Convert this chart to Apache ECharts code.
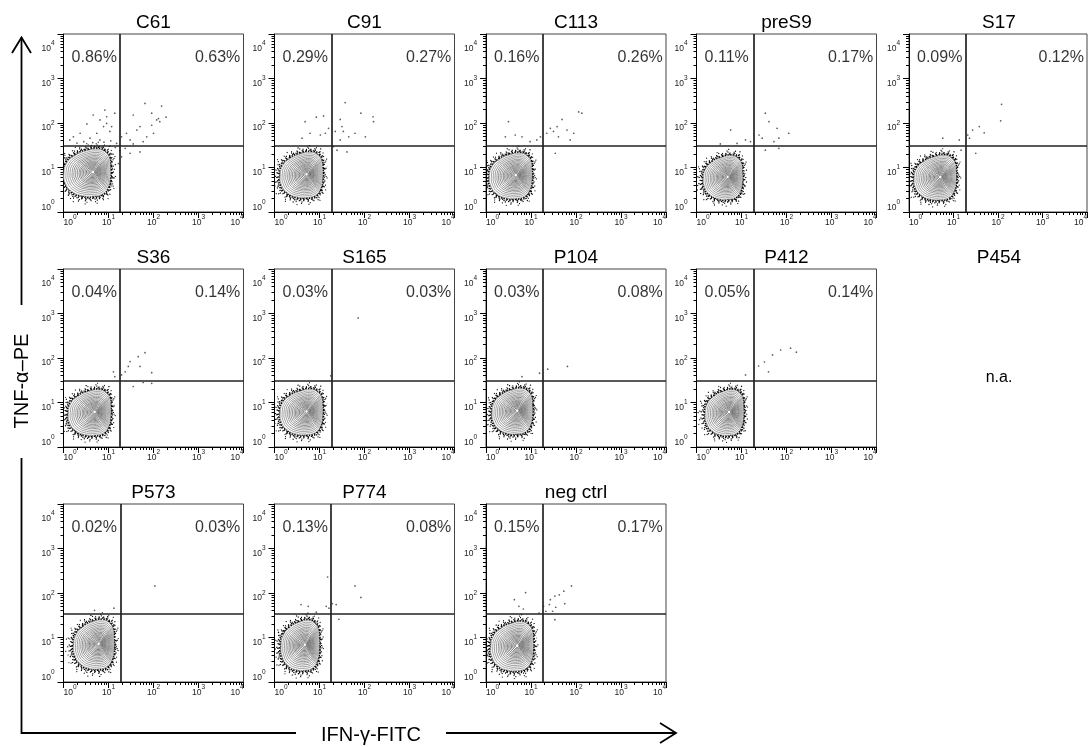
<!DOCTYPE html>
<html><head><meta charset="utf-8">
<script src="https://cdn.jsdelivr.net/npm/echarts@6/dist/echarts.min.js"></script>
<style>html,body{margin:0;padding:0;background:#fff}#c{width:1090px;height:747px}</style>
</head><body><div id="c"></div>
<script>
// ---------------- DATA ----------------
const panelNames = ['C61','C91','C113','preS9','S17','S36','S165','P104','P412','P454','P573','P774','neg ctrl'];
const hasData   = [true,true,true,true,true,true,true,true,true,false,true,true,true];
const ulPct = ['0.86%','0.29%','0.16%','0.11%','0.09%','0.04%','0.03%','0.03%','0.05%',null,'0.02%','0.13%','0.15%'];
const urPct = ['0.63%','0.27%','0.26%','0.17%','0.12%','0.14%','0.03%','0.08%','0.14%',null,'0.03%','0.08%','0.17%'];
const naText = 'n.a.';
// quadrant gates (log10 units)
const gateX = [1.26,1.27,1.26,1.27,1.27,1.26,1.27,1.26,1.27,null,1.28,1.26,1.27];
const gateY = [1.50,1.50,1.50,1.50,1.50,1.50,1.50,1.50,1.50,null,1.53,1.53,1.53];
// main population: density peak (log10 x, log10 y) and spread factors
const blobPeak = [[0.66,0.90],[0.72,0.85],[0.67,0.83],[0.70,0.79],[0.71,0.79],[0.70,0.79],[0.72,0.80],[0.70,0.82],[0.73,0.79],null,[0.79,0.86],[0.68,0.84],[0.70,0.82]];
const blobSpread = [[1.10,1.04],[1.00,1.00],[1.00,1.00],[0.92,0.96],[1.00,0.98],[1.00,1.00],[1.00,1.00],[0.95,1.00],[0.90,1.00],null,[0.95,1.08],[0.90,1.10],[1.00,1.08]];
// outer contour outline relative to the peak (decades)
const blobShape = [[0.34,0.13],[0.32,0.31],[0.24,0.43],[0.09,0.49],[-0.15,0.45],[-0.37,0.35],[-0.53,0.20],[-0.59,-0.02],[-0.56,-0.25],[-0.43,-0.42],[-0.22,-0.51],[0.00,-0.52],[0.19,-0.47],[0.30,-0.32],[0.34,-0.10]];
// individual events outside the main population (log10 IFN-γ, log10 TNF-α)
const evC61 = [[1.81,2.44],[2.18,2.38],[2.28,2.13],[2.07,2.07],[1.96,1.95],[1.70,1.92],[1.55,2.18],[1.63,1.84],[1.40,1.77],[1.48,1.62],[1.29,1.69],[1.85,1.69],[2.00,1.77],[2.14,2.03],[1.14,2.22],[0.96,2.14],[0.81,2.07],[0.89,1.92],[0.74,1.77],[1.03,1.81],[0.52,1.98],[0.37,1.77],[0.22,1.69],[0.59,1.66],[0.81,1.62],[1.18,1.54],[1.37,1.43],[1.48,1.32],[1.29,1.24],[1.70,1.35],[1.22,1.09],[0.96,1.99],[1.07,1.92],[0.14,1.62],[0.66,2.18],[0.92,2.29],[1.96,2.22],[2.11,2.10],[1.55,1.53],[1.77,1.58],[0.45,1.58],[0.65,1.56],[0.90,1.57],[1.05,1.60],[0.30,1.55],[1.15,1.45],[1.25,1.38],[1.10,1.30]];
const evC91 = [[1.57,2.46],[1.92,2.22],[2.19,2.14],[2.20,2.03],[1.46,2.08],[1.50,1.92],[1.35,1.81],[1.53,1.81],[1.65,1.69],[1.79,1.77],[2.02,1.69],[0.93,2.13],[1.09,2.16],[0.68,2.03],[0.79,1.77],[0.61,1.66],[1.02,1.73],[1.13,1.77],[1.39,1.39],[1.61,1.35],[1.31,1.47],[1.46,1.62],[1.20,1.88]];
const evC113 = [[2.06,2.25],[2.13,2.22],[1.69,2.08],[1.58,1.92],[1.50,1.81],[1.80,1.84],[1.95,1.77],[1.87,1.62],[1.61,1.69],[1.35,1.77],[1.43,1.88],[1.54,1.32],[0.50,2.03],[0.43,1.69],[0.65,1.73],[0.80,1.69],[1.21,1.69],[1.13,1.62],[0.98,1.58]];
const evPreS9 = [[1.53,2.22],[1.61,2.03],[1.79,1.88],[2.05,1.77],[1.39,1.73],[1.46,1.66],[1.72,1.58],[1.83,1.66],[1.53,1.39],[1.83,1.43],[0.76,1.84],[0.53,1.53],[0.90,1.54],[1.09,1.62],[1.20,1.58]];
const evS17 = [[2.08,2.42],[2.06,2.05],[1.58,1.92],[1.69,1.78],[1.43,1.84],[1.32,1.73],[1.36,1.66],[1.50,1.32],[1.13,1.62],[0.76,1.66],[1.17,1.39]];
const evS36 = [[1.81,2.12],[1.66,2.03],[1.48,1.92],[1.44,1.81],[1.70,1.81],[1.37,1.69],[1.29,1.62],[1.96,1.67],[1.96,1.43],[1.55,1.36],[1.77,1.45],[1.11,1.69],[1.14,1.58]];
const evS165 = [[1.86,2.90],[1.25,1.60]];
const evP104 = [[1.37,1.75],[1.81,1.81],[0.80,1.58],[1.19,1.66]];
const evP412 = [[1.38,1.82],[1.51,1.91],[1.69,2.07],[1.87,2.18],[2.09,2.22],[2.22,2.13],[1.60,1.69],[1.09,1.62]];
const evP573 = [[2.03,2.16],[0.69,1.61],[1.12,1.66]];
const evP774 = [[1.18,2.36],[1.79,2.16],[1.92,1.90],[0.59,1.74],[0.75,1.70],[0.93,1.57],[1.15,1.70],[1.28,1.76],[1.37,1.74],[1.43,1.41],[1.21,1.66]];
const evNeg = [[0.88,2.01],[1.90,2.16],[1.73,2.04],[1.63,1.96],[1.53,1.93],[1.43,1.85],[1.28,1.70],[1.41,1.74],[1.53,1.40],[1.48,1.59],[0.63,1.85],[0.73,1.70],[0.83,1.64],[1.33,1.59],[1.55,1.68],[1.75,1.76],[1.18,1.55]];
const panelEvents = [evC61,evC91,evC113,evPreS9,evS17,evS36,evS165,evP104,evP412,null,evP573,evP774,evNeg];
// axis decades (tick labels 10^0 .. 10^4)
const tickExps = [0,1,2,3,4];
const minorMultipliers = [2,3,4,5,6,7,8,9];
const xAxisTitle = 'IFN-\u03b3-FITC';
const yAxisTitle = 'TNF-\u03b1\u2013PE';

// ---------------- LAYOUT / STYLE ----------------
const FONT = '"Liberation Sans", Arial, Helvetica, sans-serif';
const colLeft = [63.5, 274.5, 486, 696.5, 909];
const rowTop = [34, 269, 504];
const PW = 180, PH = 178;
const contourLevels = [1, 0.93, 0.86, 0.79, 0.72, 0.66, 0.6, 0.54, 0.48, 0.43, 0.38, 0.33, 0.28, 0.23, 0.18, 0.13, 0.08];
// speckle band around the population: ring scale, dot size, gap, phase
const speckleRings = [
  {k:1.01,w:1.6,dash:[1.3,1.1],off:0},{k:1.05,w:1.6,dash:[1.3,1.6],off:1},{k:1.09,w:1.5,dash:[1.2,2.4],off:0.5},
  {k:1.13,w:1.4,dash:[1.1,3.4],off:2},{k:1.18,w:1.3,dash:[1,5],off:1.5},{k:1.24,w:1.2,dash:[1,7.5],off:3},
  {k:1.31,w:1.1,dash:[1,11],off:5}];

const minorVals = [];
tickExps.slice(0,-1).forEach(e => minorMultipliers.forEach(m => minorVals.push(e + Math.log10(m))));

const rich = {
  b:{fontSize:8.5,fontFamily:FONT,color:'#222',verticalAlign:'bottom',lineHeight:13},
  s:{fontSize:6.5,fontFamily:FONT,color:'#222',verticalAlign:'top',lineHeight:13}
};
const fmt = v => '{b|10}{s|' + Math.round(v) + '}';

function contourRender(params, api) {
  const cx = api.value(0), cy = api.value(1), sx = api.value(2), sy = api.value(3);
  const ring = k => blobShape.map(d => api.coord([cx + d[0]*sx*k, cy + d[1]*sy*k]));
  const ch = [];
  speckleRings.forEach(s => ch.push({type:'polygon', shape:{points:ring(s.k), smooth:0.5},
    style:{fill:'none', stroke:'#000', lineWidth:s.w, lineDash:s.dash, lineDashOffset:s.off}}));
  ch.push({type:'polygon', shape:{points:ring(1), smooth:0.5}, style:{fill:'#fff', stroke:'none'}});
  const n = contourLevels.length;
  contourLevels.forEach((k,i) => {
    const t = i/(n-1);
    const g = Math.round(165 - 85*Math.sqrt(t));
    ch.push({type:'polygon', shape:{points:ring(k), smooth:0.5},
      style:{fill: i === n-1 ? '#fff' : 'none', stroke:'rgb('+g+','+g+','+g+')', lineWidth:0.8}});
  });
  return {type:'group', children:ch};
}

const grids=[], xAxes=[], yAxes=[], series=[], graphics=[];
let gi = 0;
panelNames.forEach((name, p) => {
  const row = Math.floor(p/5), col = p%5;
  const left = colLeft[col], top = rowTop[row];
  graphics.push({type:'text', x:left+PW/2, y:top-11, style:{text:name, font:'19px '+FONT, fill:'#000', align:'center', verticalAlign:'middle'}});
  if (!hasData[p]) {
    graphics.push({type:'text', x:left+PW/2, y:top+109, style:{text:naText, font:'16px '+FONT, fill:'#000', align:'center', verticalAlign:'middle'}});
    return;
  }
  grids.push({left:left, top:top, width:PW, height:PH, show:true, borderColor:'#444', borderWidth:1, backgroundColor:'transparent'});
  const base = {type:'value', gridIndex:gi, min:0, max:4, interval:1, splitLine:{show:false}};
  xAxes.push(Object.assign({}, base, {position:'bottom',
    axisLine:{show:true, onZero:false, lineStyle:{color:'#000', width:1}},
    axisTick:{show:true, length:6, lineStyle:{color:'#000', width:1}},
    axisLabel:{show:true, margin:2, formatter:fmt, rich:rich, alignMinLabel:'left', alignMaxLabel:'right', showMinLabel:true, showMaxLabel:true}}));
  xAxes.push(Object.assign({}, base, {position:'bottom',
    axisLine:{show:false, onZero:false},
    axisTick:{show:true, length:3, customValues:minorVals, lineStyle:{color:'#000', width:1}},
    axisLabel:{show:false}}));
  yAxes.push(Object.assign({}, base, {position:'left',
    axisLine:{show:true, onZero:false, lineStyle:{color:'#000', width:1}},
    axisTick:{show:true, length:6, lineStyle:{color:'#000', width:1}},
    axisLabel:{show:true, margin:9, formatter:fmt, rich:rich, padding:[6,0,0,0], verticalAlignMinLabel:'bottom', verticalAlignMaxLabel:'top', showMinLabel:true, showMaxLabel:true}}));
  yAxes.push(Object.assign({}, base, {position:'left',
    axisLine:{show:false, onZero:false},
    axisTick:{show:true, length:3, customValues:minorVals, lineStyle:{color:'#000', width:1}},
    axisLabel:{show:false}}));
  const xi = 2*gi, yi = 2*gi;
  series.push({type:'custom', xAxisIndex:xi, yAxisIndex:yi, renderItem:contourRender, clip:true, silent:true, z:2,
    data:[[blobPeak[p][0], blobPeak[p][1], blobSpread[p][0], blobSpread[p][1]]]});
  series.push({type:'scatter', xAxisIndex:xi, yAxisIndex:yi, data:panelEvents[p], symbol:'circle', symbolSize:1.7, silent:true, z:3,
    itemStyle:{color:'#333'},
    markLine:{silent:true, symbol:['none','none'], label:{show:false}, animation:false,
      lineStyle:{color:'#222', width:1.7, type:'solid'},
      data:[{xAxis:gateX[p]},{yAxis:gateY[p]}]}});
  series.push({type:'scatter', xAxisIndex:xi, yAxisIndex:yi, symbolSize:0, silent:true, z:4,
    label:{show:true, formatter:'{b}', fontFamily:FONT, fontSize:16, color:'#000', distance:0},
    data:[{name:ulPct[p], value:[0.18,3.48], label:{position:'right'}},
          {name:urPct[p], value:[3.93,3.48], label:{position:'left'}}]});
  gi++;
});

// framing axis arrows
const ax = {stroke:'#000', lineWidth:1.8, fill:'none'};
graphics.push({type:'polyline', shape:{points:[[12,53],[21.5,37.5],[31,53]]}, style:ax});
graphics.push({type:'polyline', shape:{points:[[21.5,37.5],[21.5,305]]}, style:ax});
graphics.push({type:'polyline', shape:{points:[[21.5,458],[21.5,733],[296,733]]}, style:ax});
graphics.push({type:'polyline', shape:{points:[[446,733],[676,733]]}, style:ax});
graphics.push({type:'polyline', shape:{points:[[660,723],[676,733],[660,743]]}, style:ax});
graphics.push({type:'text', x:22, y:381, rotation:Math.PI/2, style:{text:yAxisTitle, font:'20px '+FONT, fill:'#000', align:'center', verticalAlign:'middle'}});
graphics.push({type:'text', x:371, y:735, style:{text:xAxisTitle, font:'20px '+FONT, fill:'#000', align:'center', verticalAlign:'middle'}});

const chart = echarts.init(document.getElementById('c'), null, {renderer:'canvas'});
chart.setOption({
  animation:false,
  backgroundColor:'#fff',
  grid:grids, xAxis:xAxes, yAxis:yAxes, series:series, graphic:graphics
});
</script></body></html>
